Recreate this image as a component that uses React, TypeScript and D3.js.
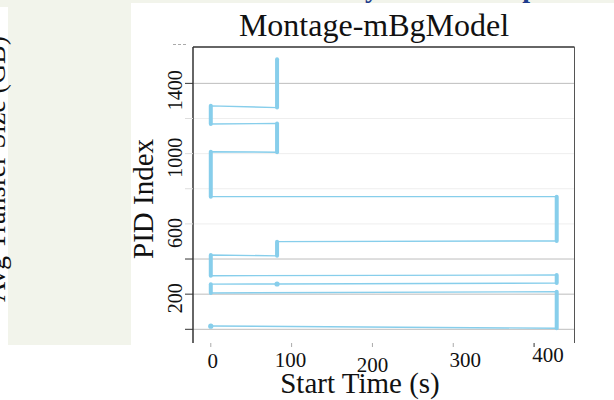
import * as d3 from "d3";

// PID runs (sorted by PID): each run = one start time, a span of PIDs
const runTime = [0, 428, 0, 82, 428, 0, 82, 428, 0, 82, 0, 82];
const runPidStart = [17, 6, 207, 258, 263, 305, 418, 503, 755, 1008, 1169, 1262];
const runPidEnd = [19, 214, 257, 258, 309, 423, 499, 755, 1011, 1172, 1272, 1537];

const xTicks = [0, 100, 200, 300, 400];
const yTicks = [0, 200, 400, 600, 800, 1000, 1200, 1400];
const yLabelTicks = [200, 600, 1000, 1400];
// gridlines that show faint in the picture
const faintTicks = [600, 800, 1000, 1200];

// label nudges (dx, dy) as they sit in the picture
const xLabelNudge = [[2, 0], [-1, -1], [0, 4], [12, -1], [14, -6]];
const yLabelNudge: Record<number, number> = { 200: 4, 600: 9, 1000: 4, 1400: 7 };

const W = 614;
const H = 400;
const plot = { x1: 193, x2: 574.5, y1: 47, y2: 343 };
const blue = "#87ceeb";
const serif = "'Liberation Serif', 'DejaVu Serif', serif";

export default function App() {
  const x = d3.scaleLinear().domain([-22, 450]).range([plot.x1, plot.x2]);
  const y = d3.scaleLinear().domain([-78, 1607]).range([plot.y2, plot.y1]);

  const pts: [number, number][] = [];
  runTime.forEach((t, i) => {
    pts.push([t, runPidStart[i]]);
    pts.push([t, runPidEnd[i]]);
  });
  const line = d3.line<[number, number]>().x(d => x(d[0])).y(d => y(d[1]));

  return (
    <svg width={W} height={H} style={{ position: "absolute", left: 0, top: 0, display: "block" }}>
      <rect x={0} y={0} width={W} height={H} fill="#fff" />
      <rect x={0} y={0} width={W} height={3} fill="#f2f4eb" />
      <rect x={0} y={0} width={131} height={345} fill="#f2f4eb" />
      <rect x={0} y={7} width={8} height={338} fill="#fff" />
      {/* clipped fragments from the figure above */}
      <text x={372} y={-3} fontFamily={serif} fontSize={28} fontWeight="bold" fill="#1d3c8c" textAnchor="middle">y</text>
      <text x={530} y={-3} fontFamily={serif} fontSize={28} fontWeight="bold" fill="#1d3c8c" textAnchor="middle">p</text>
      <text transform="translate(5,169) rotate(-90)" fontFamily={serif} fontSize={28} fill="#111" textAnchor="middle">
        Avg Transfer Size (GB)
      </text>
      <line x1={173} x2={187} y1={44.5} y2={44.5} stroke="#aaa" strokeDasharray="3,2" />

      {/* gridlines */}
      {yTicks.map(v => (
        <line key={"g" + v} x1={plot.x1} x2={plot.x2} y1={y(v)} y2={y(v)}
          stroke={faintTicks.includes(v) ? "#eeeeee" : "#bdbdbd"} strokeWidth={1} />
      ))}

      {/* frame */}
      <line x1={plot.x1} x2={plot.x2} y1={plot.y1} y2={plot.y1} stroke="#666" strokeWidth={2} />
      <line x1={plot.x2} x2={plot.x2} y1={plot.y1} y2={plot.y2} stroke="#555" strokeWidth={1} />
      <line x1={plot.x1} x2={plot.x1} y1={plot.y1} y2={plot.y2} stroke="#333" strokeWidth={1.5} />

      {/* y ticks */}
      {yTicks.map(v => (
        <line key={"t" + v} x1={185} x2={plot.x1} y1={y(v)} y2={y(v)}
          stroke={faintTicks.includes(v) ? "#ddd" : "#333"} strokeWidth={1} />
      ))}
      {yLabelTicks.map(v => (
        <text key={"l" + v} transform={`translate(182,${y(v) + yLabelNudge[v]}) rotate(-90)`}
          fontFamily={serif} fontSize={20} textAnchor="middle" fill="#111">{v}</text>
      ))}

      {/* x ticks */}
      {xTicks.map((v, i) => (
        <g key={"x" + v}>
          <line x1={x(v)} x2={x(v)} y1={plot.y2} y2={plot.y2 + 4} stroke={v === 400 ? "#333" : "#aaa"} />
          <text x={x(v) + xLabelNudge[i][0]} y={368 + xLabelNudge[i][1]} fontFamily={serif} fontSize={21}
            textAnchor="middle" fill="#111">{v}</text>
        </g>
      ))}

      {/* data */}
      <path d={line(pts) ?? ""} fill="none" stroke={blue} strokeWidth={1.4} />
      {runTime.map((t, i) =>
        runPidEnd[i] - runPidStart[i] > 3 ? (
          <line key={"r" + i} x1={x(t)} x2={x(t)} y1={y(runPidStart[i])} y2={y(runPidEnd[i])}
            stroke={blue} strokeWidth={4} strokeLinecap="round" />
        ) : (
          <circle key={"r" + i} cx={x(t)} cy={y((runPidStart[i] + runPidEnd[i]) / 2)} r={2.6} fill={blue} />
        )
      )}

      <text x={374} y={36} fontFamily={serif} fontSize={32} textAnchor="middle" fill="#111">Montage-mBgModel</text>
      <text transform="translate(153,199) rotate(-90)" fontFamily={serif} fontSize={29} textAnchor="middle" fill="#111">
        PID Index
      </text>
      <text x={360} y={393} fontFamily={serif} fontSize={29} textAnchor="middle" fill="#111">Start Time (s)</text>
    </svg>
  );
}
